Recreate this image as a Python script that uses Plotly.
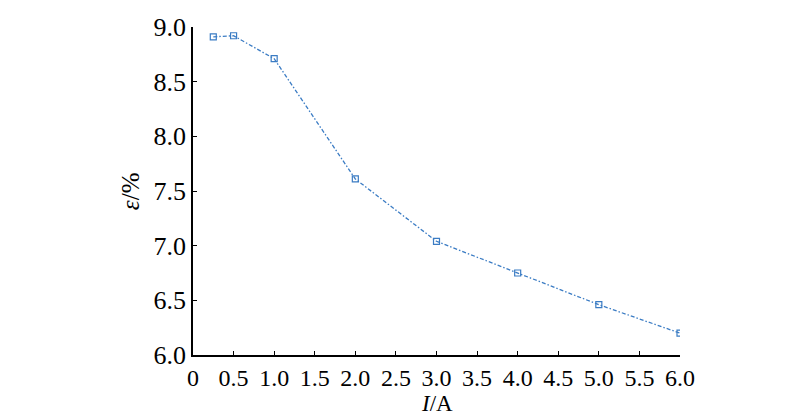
import plotly.graph_objects as go

current_A = [0.25, 0.5, 1.0, 2.0, 3.0, 4.0, 5.0, 6.0]
epsilon_pct = [8.91, 8.92, 8.71, 7.61, 7.04, 6.75, 6.46, 6.20]

x_tickvals = [0, 0.5, 1.0, 1.5, 2.0, 2.5, 3.0, 3.5, 4.0, 4.5, 5.0, 5.5, 6.0]
x_ticktext = ["0", "0.5", "1.0", "1.5", "2.0", "2.5", "3.0", "3.5", "4.0", "4.5", "5.0", "5.5", "6.0"]
y_tickvals = [6.0, 6.5, 7.0, 7.5, 8.0, 8.5, 9.0]
y_ticktext = ["6.0", "6.5", "7.0", "7.5", "8.0", "8.5", "9.0"]

color = "#3b7cc4"
font_family = "Liberation Serif"

fig = go.Figure()
fig.add_trace(go.Scatter(
    x=current_A, y=epsilon_pct, mode="lines+markers",
    line=dict(color=color, width=1.3, dash="4px,2px,1.5px,2px"),
    marker=dict(symbol="square-open", size=6, color=color, line=dict(width=1.2, color=color)),
    showlegend=False,
))

fig.update_layout(
    width=800, height=418,
    margin=dict(l=185, r=128, t=19, b=71),
    paper_bgcolor="white", plot_bgcolor="white",
    font=dict(family=font_family, size=25, color="black"),
    xaxis=dict(
        range=[0, 6.0], tickvals=x_tickvals, ticktext=x_ticktext, tickangle=0,
        showline=True, linecolor="black", linewidth=1.5, mirror=False,
        ticks="inside", ticklen=4, tickwidth=1.3, tickcolor="black",
        showgrid=False, zeroline=False, automargin=False,
        tickfont=dict(size=24),
    ),
    yaxis=dict(
        range=[6.0, 9.0], tickvals=y_tickvals, ticktext=y_ticktext,
        showline=True, linecolor="black", linewidth=1.5, mirror=False,
        ticks="inside", ticklen=4, tickwidth=1.3, tickcolor="black",
        showgrid=False, zeroline=False, automargin=False,
        tickfont=dict(size=26),
    ),
    annotations=[
        dict(text="<i>I</i>/A", xref="paper", yref="paper", x=0.5, y=-0.149,
             xanchor="center", yanchor="middle", showarrow=False,
             font=dict(family=font_family, size=23, color="black")),
        dict(text="<i>ε</i>/%", xref="paper", yref="paper", x=-0.129, y=0.5,
             xanchor="center", yanchor="middle", showarrow=False, textangle=-90,
             font=dict(family=font_family, size=25, color="black")),
    ],
)

fig.write_html("out.html")
